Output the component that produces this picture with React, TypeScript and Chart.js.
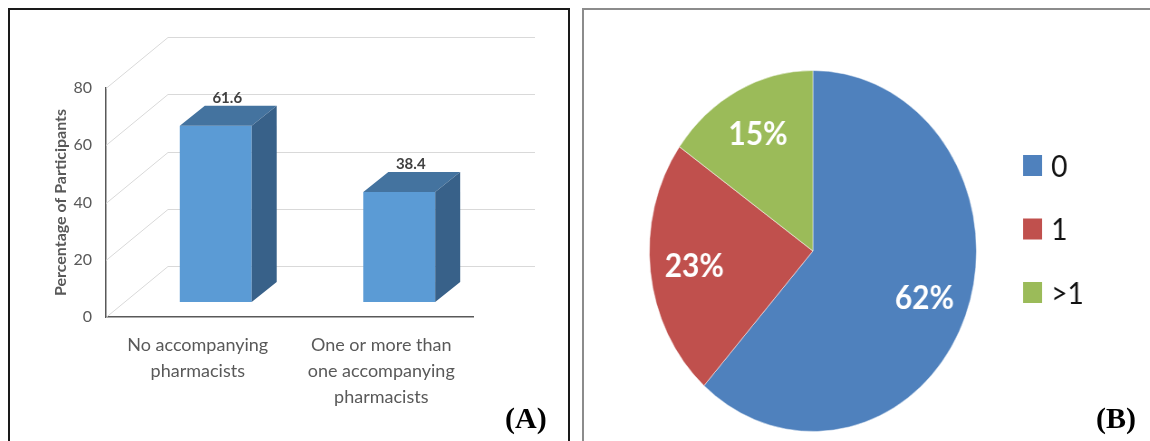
import React, { useEffect, useRef } from "react";
import { Chart, registerables } from "chart.js";

Chart.register(...registerables);

// ---------- data ----------
const barCategories: string[][] = [
  ["No accompanying", "pharmacists"],
  ["One or more than", "one accompanying", "pharmacists"],
];
const barValues: number[] = [61.6, 38.4];
const yTicks: number[] = [0, 20, 40, 60, 80];
const yTitle = "Percentage of Participants";

const pieLabels: string[] = ["0", "1", ">1"];
const pieValues: number[] = [61.6, 23.2, 15.2];
const pieColors: string[] = ["#4F81BD", "#C0504D", "#9BBB59"];

// ---------- styling ----------
const FONT = "Lato, 'Open Sans', sans-serif";
const GRAY = "#595959";
const WALL_DX = 62;
const WALL_DY = -51;
const FRONT_DX = 18;
const FRONT_DY = -15;
const DEPTH_DX = 25;
const DEPTH_DY = -20;
const BAR_FRONT = "#5B9BD5";
const BAR_TOP = "#44739F";
const BAR_SIDE = "#386189";
const PIE_SQUASH = 0.906;

const bar3dPlugin = {
  id: "bar3d",
  beforeDatasetsDraw(chart: any) {
    const { ctx, chartArea, scales } = chart;
    const ys = scales.y;
    ctx.save();
    ctx.strokeStyle = "#d9d9d9";
    ctx.lineWidth = 1;
    ys.ticks.forEach((t: any) => {
      const py = Math.round(ys.getPixelForValue(t.value)) + 0.5;
      ctx.beginPath();
      ctx.moveTo(chartArea.left, py);
      ctx.lineTo(chartArea.left + WALL_DX, py + WALL_DY);
      ctx.lineTo(chartArea.right + WALL_DX, py + WALL_DY);
      ctx.stroke();
    });
    ctx.restore();
    ctx.save();
    ctx.translate(FRONT_DX, FRONT_DY);
  },
  afterDatasetsDraw(chart: any) {
    const { ctx } = chart;
    const meta = chart.getDatasetMeta(0);
    meta.data.forEach((el: any) => {
      const { x, y, base, width } = el.getProps(["x", "y", "base", "width"], true);
      const l = x - width / 2;
      const r = x + width / 2;
      ctx.fillStyle = BAR_TOP;
      ctx.beginPath();
      ctx.moveTo(l, y);
      ctx.lineTo(l + DEPTH_DX, y + DEPTH_DY);
      ctx.lineTo(r + DEPTH_DX, y + DEPTH_DY);
      ctx.lineTo(r, y);
      ctx.closePath();
      ctx.fill();
      ctx.fillStyle = BAR_SIDE;
      ctx.beginPath();
      ctx.moveTo(r, y);
      ctx.lineTo(r + DEPTH_DX, y + DEPTH_DY);
      ctx.lineTo(r + DEPTH_DX, base + DEPTH_DY);
      ctx.lineTo(r, base);
      ctx.closePath();
      ctx.fill();
    });
    ctx.restore();
    // value labels
    ctx.save();
    ctx.font = `bold 15px ${FONT}`;
    ctx.fillStyle = "#404040";
    ctx.textAlign = "center";
    ctx.textBaseline = "middle";
    meta.data.forEach((el: any, i: number) => {
      const { x, y } = el.getProps(["x", "y"], true);
      ctx.fillText(
        String(chart.data.datasets[0].data[i]),
        x + FRONT_DX + DEPTH_DX / 2 - 1,
        y + FRONT_DY + DEPTH_DY - 8
      );
    });
    ctx.restore();
  },
};

const pieLabelPlugin = {
  id: "pieLabels",
  afterDatasetsDraw(chart: any) {
    const { ctx } = chart;
    const meta = chart.getDatasetMeta(0);
    ctx.save();
    ctx.font = `bold 33px ${FONT}`;
    ctx.fillStyle = "#ffffff";
    ctx.textAlign = "center";
    ctx.textBaseline = "middle";
    meta.data.forEach((arc: any, i: number) => {
      const { x, y, startAngle, endAngle, outerRadius } = arc.getProps(
        ["x", "y", "startAngle", "endAngle", "outerRadius"],
        true
      );
      const mid = (startAngle + endAngle) / 2;
      const r = outerRadius * 0.73;
      const v = chart.data.datasets[0].data[i];
      ctx.fillText(`${Math.round(v)}%`, x + Math.cos(mid) * r, y + Math.sin(mid) * r);
    });
    ctx.restore();
  },
};

const pieLegendPlugin = {
  id: "pieLegend",
  afterDraw(chart: any) {
    const { ctx } = chart;
    const labels = chart.data.labels as string[];
    const colors = chart.data.datasets[0].backgroundColor as string[];
    const boxX = 478;
    const box = 21;
    const firstTop = 85;
    const step = 63.5;
    ctx.save();
    ctx.font = `31px ${FONT}`;
    ctx.textAlign = "left";
    ctx.textBaseline = "middle";
    labels.forEach((lab, i) => {
      const top = firstTop + i * step;
      ctx.fillStyle = colors[i];
      ctx.fillRect(boxX, top, box, box);
      ctx.fillStyle = "#111111";
      ctx.fillText(lab, boxX + 31, top + box / 2 + 1);
    });
    ctx.restore();
  },
};

export default function App() {
  const barRef = useRef<HTMLCanvasElement>(null);
  const pieRef = useRef<HTMLCanvasElement>(null);

  useEffect(() => {
    const bar = new Chart(barRef.current as HTMLCanvasElement, {
      type: "bar",
      data: {
        labels: barCategories as any,
        datasets: [
          {
            data: barValues,
            backgroundColor: BAR_FRONT,
            borderWidth: 0,
            barPercentage: 0.392,
            categoryPercentage: 1,
            clip: false as any,
          },
        ],
      },
      options: {
        animation: false,
        responsive: false,
        events: [],
        layout: { padding: { left: 34, right: 95, top: 78, bottom: 0 } },
        plugins: { legend: { display: false }, tooltip: { enabled: false } },
        scales: {
          x: {
            grid: { display: false, drawTicks: false },
            border: { display: true, color: GRAY, width: 1.5 },
            ticks: {
              color: GRAY,
              font: { family: FONT, size: 18, lineHeight: 1.45 },
              padding: 15,
              maxRotation: 0,
              autoSkip: false,
            },
            afterFit: (s: any) => {
              s.height = 124;
            },
          },
          y: {
            min: 0,
            max: 80,
            afterBuildTicks: (s: any) => {
              s.ticks = yTicks.map((v) => ({ value: v }));
            },
            grid: { display: false, drawTicks: false },
            border: { display: true, color: GRAY, width: 1.5 },
            ticks: { color: GRAY, font: { family: FONT, size: 16 }, padding: 14 },
            title: {
              display: true,
              text: yTitle,
              color: GRAY,
              font: { family: FONT, size: 16, weight: "bold" },
              padding: { top: 7, bottom: 0 },
            },
            afterFit: (s: any) => {
              s.width = 62;
            },
          },
        },
      },
      plugins: [bar3dPlugin],
    });

    const pie = new Chart(pieRef.current as HTMLCanvasElement, {
      type: "pie",
      data: {
        labels: pieLabels,
        datasets: [
          {
            data: pieValues,
            backgroundColor: pieColors,
            borderColor: "rgba(255,255,255,0.5)",
            borderWidth: 1,
            hoverOffset: 0,
          },
        ],
      },
      options: {
        animation: false,
        responsive: false,
        events: [],
        layout: { padding: { left: 0, right: 115, top: 0, bottom: 0 } },
        plugins: { legend: { display: false }, tooltip: { enabled: false } },
      },
      plugins: [pieLabelPlugin, pieLegendPlugin],
    });

    return () => {
      bar.destroy();
      pie.destroy();
    };
  }, []);

  return (
    <div
      style={{
        position: "fixed",
        left: 0,
        top: 0,
        width: 1150,
        height: 441,
        overflow: "hidden",
        background: "#ffffff",
      }}
    >
      <div
        style={{
          position: "absolute",
          left: 8,
          top: 8,
          width: 562,
          height: 470,
          border: "2px solid #1a1a1a",
          boxSizing: "border-box",
        }}
      />
      <div
        style={{
          position: "absolute",
          left: 582,
          top: 8,
          width: 620,
          height: 470,
          border: "2px solid #8c8c8c",
          boxSizing: "border-box",
        }}
      />
      <canvas
        ref={barRef}
        width={558}
        height={431}
        style={{ position: "absolute", left: 10, top: 10, width: 558, height: 431 }}
      />
      <canvas
        ref={pieRef}
        width={607}
        height={362}
        style={{
          position: "absolute",
          left: 590,
          top: 70,
          width: 607,
          height: 362,
          transform: `scaleX(${PIE_SQUASH})`,
          transformOrigin: "0 0",
        }}
      />
      <div
        style={{
          position: "absolute",
          left: 505,
          top: 403,
          font: 'bold 30px "Liberation Serif", "Times New Roman", serif',
          lineHeight: "30px",
          color: "#000",
        }}
      >
        (A)
      </div>
      <div
        style={{
          position: "absolute",
          left: 1096,
          top: 403,
          font: 'bold 30px "Liberation Serif", "Times New Roman", serif',
          lineHeight: "30px",
          color: "#000",
        }}
      >
        (B)
      </div>
    </div>
  );
}
